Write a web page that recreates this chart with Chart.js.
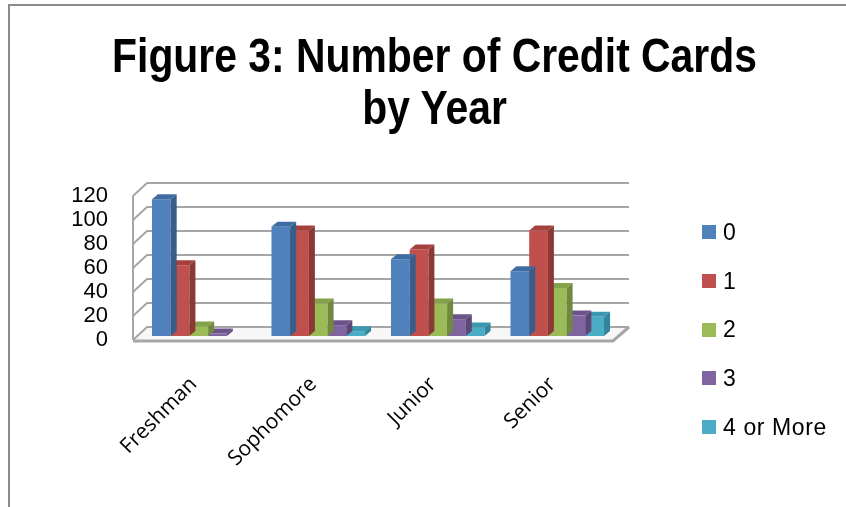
<!DOCTYPE html>
<html>
<head>
<meta charset="utf-8">
<script src="https://cdn.jsdelivr.net/npm/chart.js@4.4.0/dist/chart.umd.min.js"></script>
<style>
  html, body { margin: 0; padding: 0; background: #fff; }
  #wrap { position: relative; width: 846px; height: 507px; }
  #title {
    position: absolute; left: 0; top: 29px; width: 869px;
    text-align: center; color: #000;
    font: bold 49px/52px "Liberation Sans", Arial, sans-serif;
    transform: scaleX(0.834); transform-origin: 50% 0;
    white-space: nowrap;
  }
  #legend { position: absolute; left: 702px; top: 208px; margin: 0; padding: 0; list-style: none; }
  #legend li {
    height: 48.7px; display: flex; align-items: center; white-space: nowrap;
    font: 23px "Liberation Sans", Arial, sans-serif; letter-spacing: 0.6px; color: #000;
  }
  #legend span { display: inline-block; width: 14px; height: 14px; margin-right: 7px; }
</style>
</head>
<body>
<div id="wrap">
  <canvas id="chart" width="846" height="507"></canvas>
  <div id="title">Figure 3: Number of Credit Cards<br>by Year</div>
  <ul id="legend"></ul>
</div>
<script>
const years = ["Freshman", "Sophomore", "Junior", "Senior"];
const cardCounts = ["0", "1", "2", "3", "4 or More"];
const zeroCards = [114, 91, 64, 54];
const oneCard = [59, 88, 72, 88];
const twoCards = [8, 27, 27, 40];
const threeCards = [2, 9, 14, 17];
const fourOrMore = [0, 4, 7, 16];
const yTicks = [0, 20, 40, 60, 80, 100, 120];

const frontColors = ["#4F81BD", "#C0504D", "#9BBB59", "#8064A2", "#4BACC6"];
const sideColors = ["#385D8A", "#8C3836", "#71893F", "#5C4776", "#31859C"];
const topColors = ["#3F6CA3", "#A5403D", "#84A24A", "#6C548B", "#3C97B0"];

// depth of each bar (px to the right / up)
const DX = 6, DY = 5;

const bar3d = {
  id: "bar3d",
  beforeDatasetsDraw(chart) {
    const { ctx, chartArea: a, scales: { y } } = chart;
    const L = a.left, R = a.right, B = a.bottom;
    ctx.save();
    // floor
    ctx.beginPath();
    ctx.moveTo(L - 6, B + 4);
    ctx.lineTo(R - 4, B + 4);
    ctx.lineTo(R + 12, B - 9);
    ctx.lineTo(L + 8, B - 9);
    ctx.closePath();
    ctx.fillStyle = "#f7f7f7";
    ctx.fill();
    // back wall grid + left wall slants
    ctx.strokeStyle = "#a6a6a6";
    ctx.lineWidth = 2;
    yTicks.forEach(v => {
      const py = y.getPixelForValue(v);
      ctx.beginPath();
      ctx.moveTo(L - 6, py + 4);
      ctx.lineTo(L + 8, py - 9);
      ctx.lineTo(R + 12, py - 9);
      ctx.stroke();
    });
    // left wall front edge
    ctx.beginPath();
    ctx.moveTo(L - 6, y.getPixelForValue(yTicks[yTicks.length - 1]) + 4);
    ctx.lineTo(L - 6, B + 4);
    ctx.stroke();
    // floor front + right edges
    ctx.lineWidth = 3;
    ctx.beginPath();
    ctx.moveTo(L - 6, B + 5);
    ctx.lineTo(R - 4, B + 5);
    ctx.lineTo(R + 12, B - 9);
    ctx.stroke();
    ctx.restore();
  },
  afterDatasetDraw(chart, args) {
    const ctx = chart.ctx;
    const i = args.index;
    ctx.save();
    args.meta.data.forEach((bar, j) => {
      if (!chart.data.datasets[i].data[j]) return;
      const p = bar.getProps(["x", "y", "base", "width"], true);
      const l = p.x - p.width / 2, r = p.x + p.width / 2, t = p.y, b = p.base;
      ctx.fillStyle = topColors[i];
      ctx.beginPath();
      ctx.moveTo(l, t);
      ctx.lineTo(l + DX, t - DY);
      ctx.lineTo(r + DX, t - DY);
      ctx.lineTo(r, t);
      ctx.closePath();
      ctx.fill();
      ctx.fillStyle = sideColors[i];
      ctx.beginPath();
      ctx.moveTo(r, t);
      ctx.lineTo(r + DX, t - DY);
      ctx.lineTo(r + DX, b - DY);
      ctx.lineTo(r, b);
      ctx.closePath();
      ctx.fill();
    });
    ctx.restore();
  },
  afterDraw(chart) {
    // outer frame
    const ctx = chart.ctx;
    ctx.save();
    ctx.strokeStyle = "#8c8c8c";
    ctx.lineWidth = 2;
    ctx.beginPath();
    ctx.moveTo(9, 507);
    ctx.lineTo(9, 5);
    ctx.lineTo(846, 5);
    ctx.stroke();
    ctx.restore();
  }
};

const seriesValues = [zeroCards, oneCard, twoCards, threeCards, fourOrMore];

const chart = new Chart(document.getElementById("chart"), {
  type: "bar",
  data: {
    labels: years,
    datasets: cardCounts.map((name, i) => ({
      label: name,
      data: seriesValues[i],
      backgroundColor: frontColors[i],
      borderWidth: 0,
      barPercentage: 1,
      categoryPercentage: 0.783,
    })),
  },
  options: {
    responsive: false,
    animation: false,
    layout: { padding: { left: 0, right: 229, top: 192, bottom: 0 } },
    plugins: {
      title: { display: false },
      legend: { display: false },
      tooltip: { enabled: false },
    },
    scales: {
      x: {
        grid: { display: false, drawTicks: false },
        border: { display: false },
        ticks: {
          minRotation: 45,
          maxRotation: 45,
          labelOffset: -5,
          color: "#000",
          font: { family: "'Open Sans'", size: 21 },
          padding: 36,
        },
        afterFit(s) { s.height = 171; },
      },
      y: {
        min: 0,
        max: 120,
        grid: { display: false, drawTicks: false },
        border: { display: false },
        afterBuildTicks(s) { s.ticks = yTicks.map(v => ({ value: v })); },
        ticks: {
          autoSkip: false,
          padding: 31,
          labelOffset: 4,
          color: "#000",
          font: { family: "'Liberation Sans'", size: 22 },
        },
        afterFit(s) { s.width = 139; },
      },
    },
  },
  plugins: [bar3d],
});

// legend built from the chart's own datasets
const legendEl = document.getElementById("legend");
chart.data.datasets.forEach(ds => {
  const li = document.createElement("li");
  const sw = document.createElement("span");
  sw.style.background = ds.backgroundColor;
  li.appendChild(sw);
  li.appendChild(document.createTextNode(ds.label));
  legendEl.appendChild(li);
});
</script>
</body>
</html>
